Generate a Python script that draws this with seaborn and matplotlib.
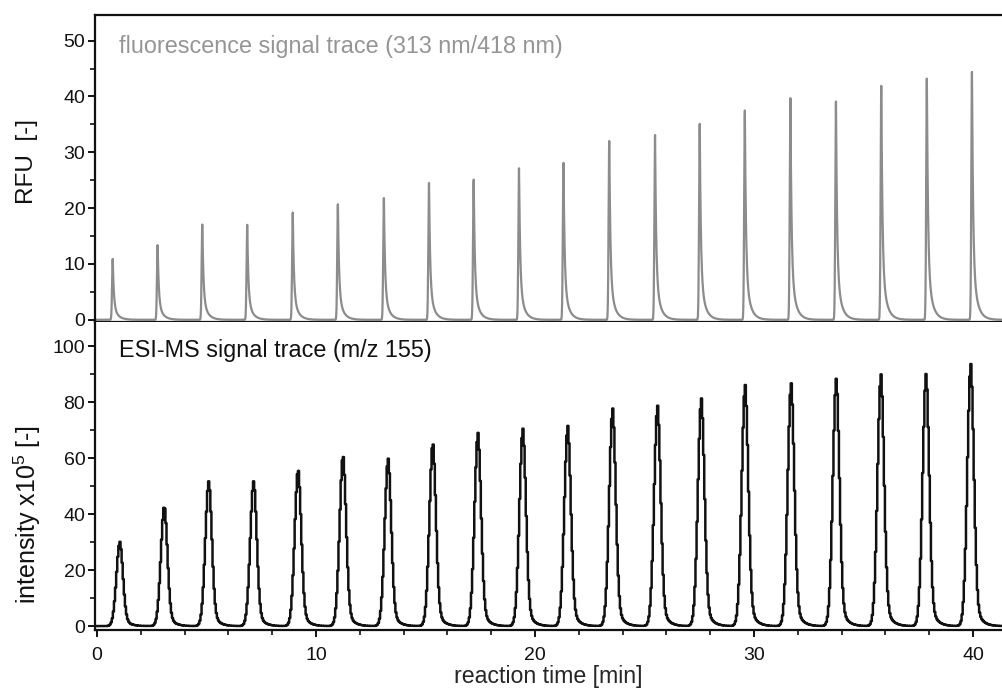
import numpy as np
import pandas as pd
import matplotlib
matplotlib.use("Agg")
import matplotlib.pyplot as plt
import seaborn as sns
from matplotlib.ticker import MultipleLocator

# ---- data ----
fl_peak_times = [0.72, 2.77, 4.81, 6.86, 8.94, 11.0, 13.1, 15.16, 17.2, 19.27,
                 21.3, 23.39, 25.48, 27.52, 29.58, 31.66, 33.74, 35.81, 37.89, 39.95]
fl_peak_heights = [10.9, 13.4, 17.1, 17.0, 19.2, 20.7, 21.8, 24.5, 25.1, 27.2,
                   28.1, 32.1, 33.1, 35.1, 37.5, 39.7, 39.1, 42.0, 43.3, 44.5]
ms_peak_times = [1.05, 3.08, 5.11, 7.16, 9.19, 11.24, 13.3, 15.34, 17.4, 19.45,
                 21.5, 23.55, 25.6, 27.6, 29.6, 31.7, 33.76, 35.8, 37.86, 39.9]
ms_peak_heights = [30.1, 43.0, 51.8, 51.8, 56.0, 61.0, 59.8, 65.5, 69.0, 70.5,
                   71.5, 77.7, 78.7, 81.3, 86.1, 86.7, 88.5, 89.9, 90.2, 93.6]

x_ticks = [0, 10, 20, 30, 40]
top_y_ticks = [0, 10, 20, 30, 40, 50]
bottom_y_ticks = [0, 20, 40, 60, 80, 100]


def fl_trace(t, times, heights):
    y = np.zeros_like(t)
    for tp, h in zip(times, heights):
        dt = t - tp
        rise = np.exp(-0.5 * (dt / 0.03) ** 2)
        dpos = np.clip(dt, 0, None)
        fall = 0.75 * np.exp(-dpos / 0.05) + 0.25 * np.exp(-dpos / 0.2)
        y += h * np.where(dt < 0, rise, fall)
    return y


def ms_trace(t, times, heights):
    y = np.zeros_like(t)
    for tp, h in zip(times, heights):
        dt = t - tp
        rise = np.exp(-0.5 * (dt / 0.16) ** 2)
        dpos = np.clip(dt, 0, None)
        fall = 0.8 * np.exp(-0.5 * (dpos / 0.14) ** 2) + 0.2 * np.exp(-dpos / 0.24)
        y += h * np.where(dt < 0, rise, fall)
    return y


t_fl = np.arange(-0.2, 41.4, 0.004)
t_ms = np.arange(-0.2, 41.4, 0.05)
df_fl = pd.DataFrame({"t": t_fl, "y": fl_trace(t_fl, fl_peak_times, fl_peak_heights)})
df_ms = pd.DataFrame({"t": t_ms, "y": ms_trace(t_ms, ms_peak_times, ms_peak_heights)})

sns.set_style("ticks")
plt.rcParams["font.family"] = ["Liberation Sans", "DejaVu Sans"]
plt.rcParams["mathtext.fontset"] = "custom"
plt.rcParams["mathtext.rm"] = "Liberation Sans"
plt.rcParams["mathtext.it"] = "Liberation Sans:italic"

fig = plt.figure(figsize=(10.02, 6.92), dpi=100)
L, R = 95 / 1002, 1.0
ax1 = fig.add_axes([L, 1 - 322 / 692, R - L, (322 - 15) / 692])
ax2 = fig.add_axes([L, 1 - 630 / 692, R - L, (630 - 322) / 692], sharex=ax1)

sns.lineplot(data=df_fl, x="t", y="y", ax=ax1, color="#8c8c8c", lw=1.6)
sns.lineplot(data=df_ms, x="t", y="y", ax=ax2, color="#111111", lw=1.8,
             drawstyle="steps-mid")

ax1.set_xlim(-0.09, 41.32)
ax1.set_ylim(-0.4, 54.6)
ax2.set_ylim(-1.4, 108.6)

ax1.set_yticks(top_y_ticks)
ax1.yaxis.set_minor_locator(MultipleLocator(5))
ax2.set_yticks(bottom_y_ticks)
ax2.yaxis.set_minor_locator(MultipleLocator(10))
ax2.set_xticks(x_ticks)
ax2.xaxis.set_minor_locator(MultipleLocator(2))

for ax in (ax1, ax2):
    for side in ("left", "bottom", "top", "right"):
        ax.spines[side].set_linewidth(1.6)
        ax.spines[side].set_color("#111111")
    ax.spines["right"].set_visible(False)
    ax.tick_params(axis="both", which="major", length=5, width=1.4, labelsize=14,
                   colors="#111111")
    ax.tick_params(axis="both", which="minor", length=3.5, width=1.2, colors="#111111")
    ax.tick_params(axis="y", which="major", pad=2)
ax2.tick_params(axis="x", which="major", pad=7)

ax2.spines["top"].set_visible(False)
ax1.tick_params(axis="x", which="both", bottom=False, labelbottom=False)

ax1.set_xlabel("")
ax1.set_ylabel("")
ax2.set_ylabel("")
ax2.set_xlabel("reaction time [min]", fontsize=16.7, labelpad=1)

fig.text(27 / 1002, 1 - 162 / 692, "RFU  [-]", rotation=90, ha="center", va="center",
         fontsize=17.5, color="#111111")
fig.text(27 / 1002, 1 - 515 / 692, "intensity x10$^5$ [-]", rotation=90, ha="center",
         va="center", fontsize=18, color="#111111")

fig.text(119 / 1002, 1 - 47 / 692, "fluorescence signal trace (313 nm/418 nm)",
         fontsize=16.8, color="#959595", va="center", ha="left")
fig.text(119 / 1002, 1 - 350 / 692, "ESI-MS signal trace (m/z 155)",
         fontsize=16.8, color="#111111", va="center", ha="left")

fig.savefig("out.png", dpi=100)
